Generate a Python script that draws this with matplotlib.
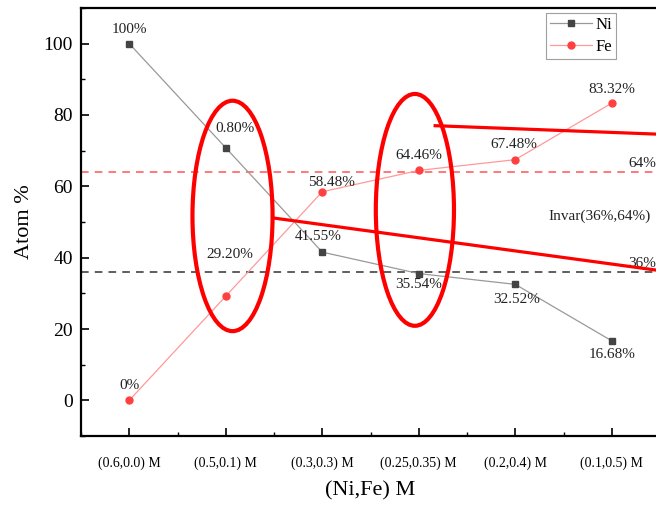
import matplotlib.pyplot as plt
from matplotlib.patches import Ellipse
from matplotlib.ticker import MultipleLocator, FixedLocator

plt.rcParams['font.family'] = ['Liberation Serif', 'DejaVu Serif']

# 資料
categories = ["(0.6,0.0) M", "(0.5,0.1) M", "(0.3,0.3) M", "(0.25,0.35) M", "(0.2,0.4) M", "(0.1,0.5) M"]
ni = [100, 70.80, 41.55, 35.54, 32.52, 16.68]
fe = [0, 29.20, 58.48, 64.46, 67.48, 83.32]
ni_labels = ["100%", "0.80%", "41.55%", "35.54%", "32.52%", "16.68%"]
fe_labels = ["0%", "29.20%", "58.48%", "64.46%", "67.48%", "83.32%"]
# 標籤位移 (points)
ni_offsets = [(0, 10), (7, 14), (-3, 11), (0, -8), (1, -11), (0, -10)]
fe_offsets = [(0, 11), (3, 30), (7, 7), (0, 11), (-1, 11), (0, 10)]

# 手繪標記: 橢圓與紅線
ellipses = [(1.07, 51.7, 0.83, 64.6), (2.96, 53.4, 0.81, 65.0)]
red_lines = [([3.17, 5.6], [77.0, 74.5]), ([1.50, 5.6], [51.1, 36.0])]

fig = plt.figure(figsize=(6.56, 5.09), dpi=100)
ax = fig.add_axes([0.1235, 0.1434, 0.8826, 0.8409])

x = list(range(len(categories)))

ax.axhline(64, color='#ff5555', ls=(0, (5, 4)), lw=1.1, zorder=1)
ax.axhline(36, color='#333333', ls=(0, (5, 4)), lw=1.1, zorder=1)

ax.plot(x, ni, color='#999999', lw=0.9, marker='s', ms=5, mfc='#444444', mec='#444444', label='Ni', zorder=3)
ax.plot(x, fe, color='#ff9999', lw=0.9, marker='o', ms=5, mfc='#ff4040', mec='#ff4040', label='Fe', zorder=3)

for i in x:
    ax.annotate(ni_labels[i], (i, ni[i]), xytext=ni_offsets[i], textcoords='offset points',
                ha='center', va='center', fontsize=11, color='#222222')
    ax.annotate(fe_labels[i], (i, fe[i]), xytext=fe_offsets[i], textcoords='offset points',
                ha='center', va='center', fontsize=11, color='#222222')

ax.text(5.17, 66.5, "64%", ha='left', va='center', fontsize=11, color='#222222')
ax.text(5.17, 38.5, "36%", ha='left', va='center', fontsize=11, color='#222222')
ax.text(4.87, 51.5, "Invar(36%,64%)", ha='center', va='center', fontsize=11, color='#222222')

for cx, cy, w, h in ellipses:
    ax.add_patch(Ellipse((cx, cy), w, h, fill=False, ec='red', lw=3, zorder=5))
for lx, ly in red_lines:
    ax.plot(lx, ly, color='red', lw=2.3, zorder=5, clip_on=False)

ax.set_xlim(-0.5, 5.5)
ax.set_ylim(-10, 110)
ax.xaxis.set_major_locator(FixedLocator(x))
ax.xaxis.set_minor_locator(FixedLocator([i + 0.5 for i in range(-1, 6)]))
ax.set_xticklabels(categories, fontsize=10)
ax.yaxis.set_major_locator(MultipleLocator(20))
ax.yaxis.set_minor_locator(MultipleLocator(10))
ax.tick_params(axis='both', which='major', direction='in', length=6, width=1.2, labelsize=14, pad=6)
ax.tick_params(axis='x', which='major', labelsize=10, pad=15)
ax.tick_params(axis='both', which='minor', direction='in', length=3, width=1.0)
for s in ax.spines.values():
    s.set_linewidth(1.6)

ax.set_ylabel("Atom %", fontsize=16, labelpad=7)
ax.set_xlabel("(Ni,Fe) M", fontsize=16, labelpad=8)

leg = ax.legend(loc='upper left', bbox_to_anchor=(0.803, 0.988), fontsize=12, frameon=True,
                fancybox=False, edgecolor='#888888', handlelength=2.5, borderpad=0.25,
                handletextpad=0.2, labelspacing=0.35, borderaxespad=0)
leg.get_frame().set_linewidth(0.8)

fig.savefig("out.png", dpi=100)
